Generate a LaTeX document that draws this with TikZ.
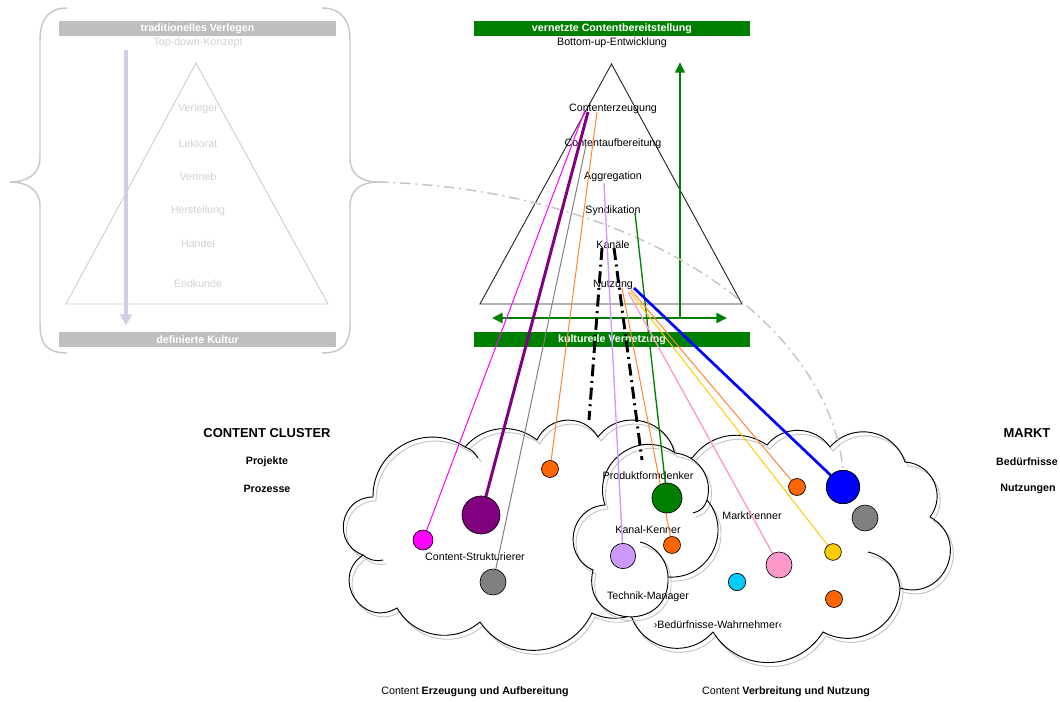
\documentclass[tikz,border=0pt]{standalone}
\usepackage{fontspec}
\setmainfont{Liberation Sans}
\usetikzlibrary{arrows.meta}

\definecolor{panelline}{HTML}{C8C8C8}
\definecolor{paneltext}{HTML}{D0D0D0}
\definecolor{panelbar}{HTML}{BFBFBF}
\definecolor{panelarrow}{HTML}{CFCFE3}
\definecolor{netgreen}{HTML}{008000}
\definecolor{cmagenta}{HTML}{FF00FF}
\definecolor{cpurple}{HTML}{800080}
\definecolor{cgrey}{HTML}{808080}
\definecolor{corange}{HTML}{FF6600}
\definecolor{corangeline}{HTML}{FF8533}
\definecolor{clavender}{HTML}{CC99FF}
\definecolor{cpink}{HTML}{FF99CC}
\definecolor{cyellow}{HTML}{FFCC00}
\definecolor{ccyan}{HTML}{00CCFF}
\definecolor{cblue}{HTML}{0000FF}
\definecolor{shadeline}{HTML}{C4C4C4}
\definecolor{curvegrey}{HTML}{C4C4C4}

\tikzset{
  puff/.style 2 args={bend left=#1, looseness=#2},
  cloudline/.style={draw=black, line width=0.7pt},
  cloudshade/.style={draw=shadeline, line width=0.7pt},
  dot/.style={circle, draw=black, line width=0.5pt, inner sep=0pt},
  lbl/.style={inner sep=0pt, text=black},
  fadelbl/.style={inner sep=0pt, text=paneltext},
  bartext/.style={text=white, font=\fontsize{8}{9.6}\selectfont\bfseries, inner sep=0pt},
  headline/.style={font=\fontsize{9.7}{11}\selectfont\bfseries, inner sep=0pt},
  subline/.style={font=\fontsize{8}{9.6}\selectfont\bfseries, inner sep=0pt},
  link/.style={line width=0.75pt},
  blackdashdot/.style={line width=2.2pt, dash pattern=on 9pt off 3.5pt on 1.5pt off 3.5pt},
}

% cloud outlines (clockwise), followed by the short interior arcs
\def\leftcloud{(373,497) to[puff={62}{1.16}] (465,447) to[puff={44}{1}] (537,440)
  to[puff={62}{1.16}] (598,437) to[puff={66}{1.2}] (675,455) to[puff={62}{1.16}] (665,560)
  to[puff={62}{1.16}] (592,613) to[puff={60}{1.15}] (480,622) to[puff={50}{1.05}] (397,608)
  to[puff={88}{1.65}] (363,555) to[puff={80}{1.45}] (373,497) -- cycle}
\def\leftcloudinner{(465,447) to[bend left=20] (478,458)
  (363,555) to[bend right=25] (383,560)}
\def\rightcloud{(693,457) to[puff={44}{1}] (767,445) to[puff={53}{1.06}] (830,447)
  to[puff={60}{1.15}] (905,462) to[puff={62}{1.16}] (930,517) to[puff={84}{1.55}] (900,588)
  to[puff={58}{1.12}] (823,632) to[puff={58}{1.12}] (713,632) to[puff={62}{1.16}] (630,612)
  to[puff={60}{1.15}] (690,540) to[puff={60}{1.15}] (693,457) -- cycle}
\def\rightcloudinner{(868,552) to[bend left=35] (900,588)}
\def\midcloud{(593,570) to[puff={76}{1.37}] (605,505) to[puff={72}{1.3}] (675,453)
  to[puff={50}{1.05}] (707,500) to[puff={67}{1.22}] (668,577) to[puff={98}{1.98}] (593,570) -- cycle}
\def\midcloudinner{(707,500) to[bend left=30] (693,513)
  (640,542) to[bend left=37, looseness=0.95] (668,577)}

\begin{document}
\begin{tikzpicture}[x=0.75pt,y=-0.75pt,font=\fontsize{8}{9.6}\selectfont]
\useasboundingbox (0,0) rectangle (1060,702);

% ---------- traditional publishing (faded panel) ----------
\coordinate (bracetip) at (378,182);
\draw[panelline, line width=1.1pt]
  (67,8) .. controls (48,8) and (40,20) .. (40,40) -- (40,158)
  .. controls (40,175) and (26,182) .. (10,182)
  .. controls (26,182) and (40,189) .. (40,206) -- (40,325)
  .. controls (40,345) and (48,353) .. (67,353);
\draw[panelline, line width=1.1pt]
  (322,8) .. controls (341,8) and (350,20) .. (350,40) -- (350,158)
  .. controls (350,175) and (362,182) .. (bracetip)
  .. controls (362,182) and (350,189) .. (350,206) -- (350,325)
  .. controls (350,345) and (341,353) .. (322,353);

\fill[panelbar] (59,21) rectangle (336,36);
\node[bartext] (tradbar) at (197.5,28.5) {traditionelles Verlegen};
\node[fadelbl] (topdown) at (198,43) {Top-down-Konzept};
\fill[panelbar] (59,332) rectangle (336,347);
\node[bartext] (kulturbar) at (197.5,339.5) {definierte Kultur};

\draw[panelline, line width=0.6pt] (196,63) -- (66,304) -- (328,304) -- cycle;
\node[fadelbl] (verleger) at (198,109) {Verleger};
\node[fadelbl] (lektorat) at (198,144) {Lektorat};
\node[fadelbl] (vertrieb) at (198,177) {Vertrieb};
\node[fadelbl] (herst) at (198,211) {Herstellung};
\node[fadelbl] (handel) at (198,244) {Handel};
\node[fadelbl] (endkunde) at (198,284) {Endkunde};

\coordinate (downtop) at (126,50);
\coordinate (downend) at (126,325);
\draw[panelarrow, line width=3pt, -{Triangle[length=8pt,width=9pt]}] (downtop) -- (downend);

% ---------- networked content (centre) ----------
\fill[netgreen] (474,21) rectangle (750,36);
\node[bartext] (netbar) at (612,28.5) {vernetzte Contentbereitstellung};
\node[lbl] (bottomup) at (612,43) {Bottom-up-Entwicklung};
\fill[netgreen] (474,332) rectangle (750,347);
\node[bartext] (vernetzbar) at (612,339.5) {kulturelle Vernetzung};

\draw[black!85, line width=0.7pt] (611.5,64) -- (480,304) -- (742,304) -- cycle;
\node[lbl] (erz) at (613,109) {Contenterzeugung};
\node[lbl] (aufb) at (613,144) {Contentaufbereitung};
\node[lbl] (aggr) at (613,177) {Aggregation};
\node[lbl] (synd) at (613,211) {Syndikation};
\node[lbl] (kan) at (613,245) {Kanäle};
\node[lbl] (nutz) at (613,285) {Nutzung};

\coordinate (upbase) at (680,318);
\coordinate (uptop) at (680,62);
\coordinate (hleft) at (492,318);
\coordinate (hright) at (727,318);
\draw[netgreen, line width=2.2pt, -{Triangle[length=8pt,width=7pt]}] (upbase) -- (uptop);
\draw[netgreen, line width=2.2pt, {Triangle[length=8pt,width=7.5pt]}-{Triangle[length=8pt,width=7.5pt]}] (hleft) -- (hright);

% ---------- clouds ----------
\fill[white] \leftcloud;
\draw[cloudshade, shift={(3,4)}] \leftcloud \leftcloudinner;
\draw[cloudline] \leftcloud \leftcloudinner;

\fill[white] \rightcloud;
\draw[cloudshade, shift={(3,4)}] \rightcloud \rightcloudinner;
\draw[cloudline] \rightcloud \rightcloudinner;

\fill[white] \midcloud;
\draw[cloudshade, shift={(3,4)}] \midcloud \midcloudinner;
\draw[cloudline] \midcloud \midcloudinner;

% ---------- side and bottom captions ----------
\node[headline] (cc) at (267,433) {CONTENT CLUSTER};
\node[subline] (proj) at (267,462) {Projekte};
\node[subline] (proz) at (267,489) {Prozesse};
\node[headline] (markt) at (1027,433) {MARKT};
\node[subline] (bed) at (1027,462) {Bedürfnisse};
\node[subline] (nutzg) at (1028,489) {Nutzungen};
\node[lbl] (capl) at (475,692) {Content \textbf{Erzeugung und Aufbereitung}};
\node[lbl] (capr) at (786,692) {Content \textbf{Verbreitung und Nutzung}};

% ---------- roles in the clouds ----------
\node[lbl] (struk) at (475,557) {Content-Strukturierer};
\node[lbl] (prod) at (648,476) {Produktformdenker};
\node[lbl] (kanal) at (648,530) {Kanal-Kenner};
\node[lbl] (tech) at (648,597) {Technik-Manager};
\node[lbl] (marktk) at (752,516) {Marktkenner};
\node[lbl] (wahr) at (718,625) {›Bedürfnisse-Wahrnehmer‹};

% ---------- connectors ----------
\coordinate (cMag) at (423,540);
\coordinate (cPur) at (481,515);
\coordinate (cGryL) at (493,582);
\coordinate (cOrA) at (550,469);
\coordinate (cLav) at (623,556);
\coordinate (cGrn) at (667,498);
\coordinate (cOrB) at (672,545);
\coordinate (cPnk) at (779,565);
\coordinate (cYel) at (833,552);
\coordinate (cOrC) at (797,487);
\coordinate (cBlu) at (843,487);
\coordinate (cGryR) at (865,518);
\coordinate (cCya) at (737,582);
\coordinate (cOrD) at (834,599);

\coordinate (sMag) at (585,110);
\coordinate (sPur) at (588,112);
\coordinate (sGry) at (586,145);
\coordinate (sOrA) at (597,112);
\coordinate (sLav) at (604,183);
\coordinate (sGrn) at (635,213);
\coordinate (sOrB) at (622,288);
\coordinate (sPnk) at (628,292);
\coordinate (sYel) at (630,292);
\coordinate (sOrC) at (631,290);
\coordinate (sBlu) at (634,288);

\coordinate (dlTop) at (602,248);
\coordinate (dlEnd) at (589,420);
\coordinate (drTop) at (614,248);
\coordinate (drEnd) at (642,460);

\node[dot, fill=cblue, minimum size=25pt] (nBlu) at (cBlu) {};
\draw[curvegrey, line width=1.1pt, dash pattern=on 8pt off 3.5pt on 1.5pt off 3.5pt]
  (bracetip) .. controls (650,190) and (830,330) .. (nBlu.north);

\draw[blackdashdot] (dlTop) -- (dlEnd);
\draw[blackdashdot] (drTop) -- (drEnd);

\draw[link, cmagenta] (sMag) -- (cMag);
\draw[cpurple, line width=2.2pt] (sPur) -- (cPur);
\draw[link, cgrey] (sGry) -- (cGryL);
\draw[link, corangeline] (sOrA) -- (cOrA);
\draw[clavender, line width=1pt] (sLav) -- (cLav);
\draw[netgreen, line width=1pt] (sGrn) -- (cGrn);
\draw[link, corangeline] (sOrB) -- (cOrB);
\draw[cpink, line width=1pt] (sPnk) -- (cPnk);
\draw[link, cyellow] (sYel) -- (cYel);
\draw[link, corangeline] (sOrC) -- (cOrC);
\draw[cblue, line width=2pt] (sBlu) -- (nBlu);

% ---------- circles ----------
\node[dot, fill=cmagenta, minimum size=15pt] (nMag) at (cMag) {};
\node[dot, fill=cpurple, minimum size=28.5pt] (nPur) at (cPur) {};
\node[dot, fill=cgrey, minimum size=19.5pt] (nGryL) at (cGryL) {};
\node[dot, fill=corange, minimum size=12.75pt] (nOrA) at (cOrA) {};
\node[dot, fill=clavender, minimum size=19pt] (nLav) at (cLav) {};
\node[dot, fill=netgreen, minimum size=22.5pt] (nGrn) at (cGrn) {};
\node[dot, fill=corange, minimum size=12.75pt] (nOrB) at (cOrB) {};
\node[dot, fill=cpink, minimum size=19.5pt] (nPnk) at (cPnk) {};
\node[dot, fill=cyellow, minimum size=12.5pt] (nYel) at (cYel) {};
\node[dot, fill=corange, minimum size=12.75pt] (nOrC) at (cOrC) {};
\node[dot, fill=cblue, minimum size=25pt] at (cBlu) {};
\node[dot, fill=cgrey, minimum size=19.5pt] (nGryR) at (cGryR) {};
\node[dot, fill=ccyan, minimum size=13pt] (nCya) at (cCya) {};
\node[dot, fill=corange, minimum size=12.75pt] (nOrD) at (cOrD) {};

\end{tikzpicture}
\end{document}
